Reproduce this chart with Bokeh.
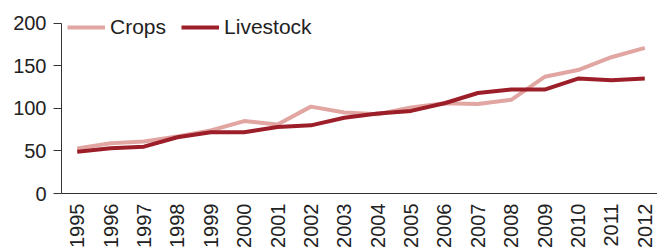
import math
from bokeh.plotting import figure
from bokeh.models import FixedTicker, Legend, LegendItem, Range1d
from bokeh.embed import file_html
from bokeh.resources import INLINE

years = list(range(1995, 2013))
crops = [53, 59, 61, 67, 74, 85, 81, 102, 95, 93, 101, 106, 105, 110, 137, 145, 160, 171]
livestock = [49, 53, 55, 66, 72, 72, 78, 80, 89, 94, 97, 106, 118, 122, 122, 135, 133, 135]
y_ticks = [0, 50, 100, 150, 200]

FONT = "Liberation Sans"
TXT = "#222222"

p = figure(width=657, height=250, output_backend="svg", toolbar_location=None,
           x_range=Range1d(1994.53, 2012.38), y_range=Range1d(0, 209),
           min_border_left=61, min_border_right=0, min_border_top=15, min_border_bottom=57)
p.outline_line_color = None
p.grid.visible = False

r1 = p.line(years, crops, line_color="#E2A6A2", line_width=4)
r2 = p.line(years, livestock, line_color="#9C1E29", line_width=4)

xa = p.xaxis[0]
xa.ticker = FixedTicker(ticks=years)
xa.major_label_overrides = {y: str(y) for y in years}
xa.major_label_orientation = math.pi / 2
xa.major_tick_line_color = None
xa.major_tick_out = 0
xa.major_tick_in = 0
xa.minor_tick_line_color = None
xa.major_label_standoff = 10
xa.axis_line_color = "#333333"
xa.major_label_text_font = FONT
xa.major_label_text_font_size = "20px"
xa.major_label_text_color = TXT

ya = p.yaxis[0]
ya.ticker = FixedTicker(ticks=y_ticks)
ya.bounds = (0, 200)
ya.major_tick_out = 8
ya.major_tick_in = 0
ya.minor_tick_line_color = None
ya.major_tick_line_color = "#333333"
ya.axis_line_color = "#333333"
ya.major_label_standoff = 7
ya.major_label_text_font = FONT
ya.major_label_text_font_size = "20px"
ya.major_label_text_color = TXT

legend = Legend(items=[LegendItem(label="Crops", renderers=[r1]),
                       LegendItem(label="Livestock", renderers=[r2])],
                orientation="horizontal", location=(6, 154),
                border_line_color=None, background_fill_alpha=0,
                padding=0, margin=0, spacing=15, label_standoff=5,
                glyph_width=38, glyph_height=20,
                label_text_font=FONT, label_text_font_size="21px",
                label_text_color=TXT)
p.add_layout(legend, "center")

open("out.html", "w").write(file_html(p, INLINE))
